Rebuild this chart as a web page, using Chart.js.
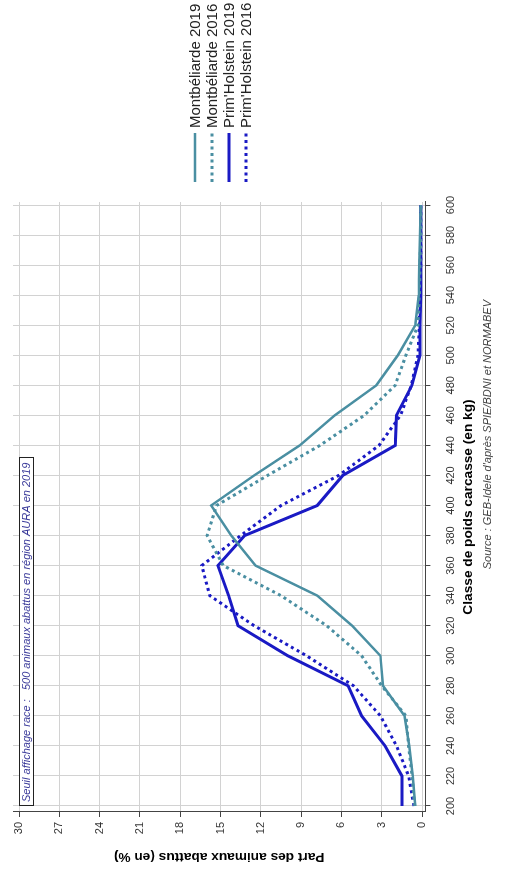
<!DOCTYPE html>
<html>
<head>
<meta charset="utf-8">
<script src="https://cdn.jsdelivr.net/npm/chart.js@4/dist/chart.umd.min.js"></script>
<style>
  html, body { margin: 0; padding: 0; background: #fff; overflow: hidden; }
  body { width: 507px; height: 870px; position: relative; }
  /* the chart is drawn landscape, then turned a quarter to the left */
  #wrap { position: absolute; left: 0; top: 870px; width: 870px; height: 507px;
          transform-origin: 0 0; transform: rotate(-90deg); }
</style>
</head>
<body>
<div id="wrap"><canvas id="poidsChart" width="870" height="507"></canvas></div>
<script>
// Data
var weightClasses = [200, 220, 240, 260, 280, 300, 320, 340, 360, 380, 400, 420, 440, 460, 480, 500, 520, 540, 560, 580, 600];
var montbeliarde2019 = [0.5, 0.7, 0.95, 1.3, 2.9, 3.1, 5.2, 7.8, 12.4, 14.2, 15.7, 12.5, 9.1, 6.5, 3.4, 1.8, 0.5, 0.25, 0.2, 0.15, 0.1];
var montbeliarde2016 = [0.55, 0.75, 1.0, 1.2, 3.0, 4.5, 7.1, 10.5, 14.8, 16.0, 15.3, 11.5, 7.6, 4.3, 2.0, 1.2, 0.3, 0.2, 0.15, 0.1, 0.1];
var primHolstein2019 = [1.5, 1.5, 2.75, 4.5, 5.5, 10.0, 13.7, 14.4, 15.2, 13.2, 7.8, 5.9, 2.0, 1.9, 0.75, 0.15, 0.15, 0.1, 0.1, 0.1, 0.1];
var primHolstein2016 = [0.6, 1.0, 1.9, 3.1, 5.1, 8.6, 12.5, 15.8, 16.4, 13.5, 10.5, 6.2, 3.2, 1.6, 0.8, 0.3, 0.2, 0.15, 0.1, 0.1, 0.1];
var shareTicks = [0, 3, 6, 9, 12, 15, 18, 21, 24, 27, 30];

var seriesLabels = ['Montbéliarde 2019', 'Montbéliarde 2016', "Prim'Holstein 2019", "Prim'Holstein 2016"];
var noteText = 'Seuil affichage race :   500 animaux abattus en région AURA en 2019';
var sourceText = "Source : GEB-Idele d'après SPIE/BDNI et NORMABEV";

var TEAL = '#4a8fa2';
var BLUE = '#1a1ac4';
var FONT = "'Liberation Sans', Arial, sans-serif";

function toPoints(values) {
  return weightClasses.map(function(w, i) { return { x: w, y: values[i] }; });
}

// legend, threshold note and source line
var extrasPlugin = {
  id: 'extras',
  afterDraw: function(chart) {
    var ctx = chart.ctx;
    var xs = chart.scales.x;
    ctx.save();

    // legend on the right
    chart.data.datasets.forEach(function(ds, i) {
      var y = 195 + i * 17;
      ctx.beginPath();
      ctx.strokeStyle = ds.borderColor;
      ctx.lineWidth = ds.borderWidth;
      ctx.setLineDash(ds.borderDash || []);
      ctx.moveTo(688, y);
      ctx.lineTo(737, y);
      ctx.stroke();
      ctx.setLineDash([]);
      ctx.fillStyle = '#222';
      ctx.font = '15px ' + FONT;
      ctx.textBaseline = 'middle';
      ctx.textAlign = 'left';
      ctx.fillText(ds.label, 742, y + 1);
    });

    // threshold note in a box
    var left = xs.getPixelForValue(200);
    ctx.fillStyle = '#fff';
    ctx.fillRect(left, 19, 348, 14);
    ctx.strokeStyle = '#222';
    ctx.lineWidth = 1;
    ctx.strokeRect(left + 0.5, 19.5, 348, 14);
    ctx.fillStyle = '#3a3a9a';
    ctx.font = 'italic 11px ' + FONT;
    ctx.textBaseline = 'middle';
    ctx.fillText(noteText, left + 4, 27);

    // source
    ctx.fillStyle = '#444';
    ctx.textAlign = 'right';
    ctx.fillText(sourceText, 570, 488);
    ctx.restore();
  }
};

var ctx = document.getElementById('poidsChart').getContext('2d');
new Chart(ctx, {
  type: 'line',
  data: {
    datasets: [
      { label: seriesLabels[0], data: toPoints(montbeliarde2019), borderColor: TEAL, borderWidth: 2.5 },
      { label: seriesLabels[1], data: toPoints(montbeliarde2016), borderColor: TEAL, borderWidth: 3, borderDash: [3, 3.5] },
      { label: seriesLabels[2], data: toPoints(primHolstein2019), borderColor: BLUE, borderWidth: 3 },
      { label: seriesLabels[3], data: toPoints(primHolstein2016), borderColor: BLUE, borderWidth: 3, borderDash: [3, 3.5] }
    ]
  },
  options: {
    responsive: false,
    animation: false,
    devicePixelRatio: 1,
    layout: { padding: { top: 13, right: 202, left: 0, bottom: 0 } },
    elements: { point: { radius: 0 }, line: { tension: 0, fill: false } },
    plugins: { legend: { display: false }, tooltip: { enabled: false } },
    scales: {
      x: {
        type: 'linear',
        min: 196,
        max: 602,
        afterBuildTicks: function(scale) {
          scale.ticks = weightClasses.map(function(v) { return { value: v }; });
        },
        afterFit: function(scale) { scale.height = 81.6; },
        grid: { color: '#d2d2d2', tickColor: '#444', tickLength: 5 },
        border: { color: '#444' },
        ticks: { autoSkip: false, maxRotation: 0, padding: 13.5, color: '#333', font: { family: FONT, size: 11 } },
        title: {
          display: true,
          text: 'Classe de poids carcasse (en kg)',
          color: '#000',
          font: { family: FONT, size: 13.7, weight: 'bold' },
          padding: { top: 0, bottom: 30.8 }
        }
      },
      y: {
        min: -0.25,
        max: 30.45,
        afterBuildTicks: function(scale) {
          scale.ticks = shareTicks.map(function(v) { return { value: v }; });
        },
        afterFit: function(scale) { scale.width = 58; },
        grid: { color: '#d2d2d2', tickColor: '#444', tickLength: 5 },
        border: { color: '#444' },
        ticks: { padding: 5, color: '#333', font: { family: FONT, size: 11 } },
        title: {
          display: true,
          text: 'Part des animaux abattus (en %)',
          color: '#000',
          font: { family: FONT, size: 13.7, weight: 'bold' },
          padding: { top: 4.8, bottom: 0 }
        }
      }
    }
  },
  plugins: [extrasPlugin]
});
</script>
</body>
</html>
